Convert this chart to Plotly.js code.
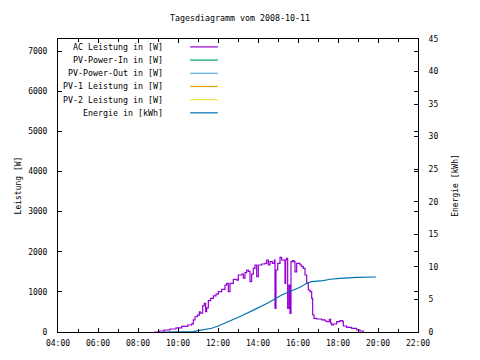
<!DOCTYPE html>
<html>
<head>
<meta charset="utf-8">
<script src="https://cdn.plot.ly/plotly-3.0.1.min.js"></script>
<style>html,body{margin:0;padding:0;background:#fff;}#chart{width:480px;height:360px;}</style>
</head>
<body>
<div id="chart"></div>
<script>
// ---- data ----
var dayPrefix = "2008-10-11 ";
var acTimes = ["08:48","09:03","09:18","09:36","09:54","10:11","10:29","10:41","10:46","10:51","10:58","11:04","11:07","11:14","11:19","11:23","11:26","11:31","11:38","11:46","11:54","12:01","12:11","12:21","12:26","12:31","12:36","12:46","12:56","13:01","13:11","13:16","13:21","13:26","13:31","13:36","13:41","13:46","13:51","13:56","14:01","14:11","14:21","14:26","14:31","14:36","14:43","14:49","14:51","14:54","14:59","15:06","15:11","15:16","15:21","15:23","15:26","15:29","15:33","15:36","15:39","15:44","15:48","15:51","15:56","16:06","16:11","16:16","16:21","16:26","16:31","16:36","16:41","16:44","16:48","16:56","17:11","17:21","17:26","17:34","17:38","17:41","17:46","17:56","18:06","18:14","18:16","18:26","18:41","18:56","19:06","19:16"];
var acPower = [0,25,50,75,105,140,175,200,300,380,420,505,470,650,715,505,600,780,840,900,945,1004,1063,1170,1212,1004,1212,1312,1290,1420,1445,1340,1478,1545,1510,1253,1440,1587,1669,1378,1669,1694,1711,1794,1669,1752,1711,1794,590,1545,1711,1860,1794,1790,1212,1800,1836,590,1170,465,1752,1777,1752,1500,1711,1669,1628,1587,1420,1212,1046,1004,840,423,340,324,300,274,257,316,216,174,199,257,282,257,150,116,91,50,25,0];

var pvInTimes = [];   var pvInPower = [];
var pvOutTimes = [];  var pvOutPower = [];
var pv1Times = [];    var pv1Power = [];
var pv2Times = [];    var pv2Power = [];

var energyTimes = ["09:15","10:46","11:00","11:21","11:41","12:01","12:31","13:11","13:51","14:31","15:11","15:36","15:46","16:06","16:26","16:41","17:16","17:36","18:06","18:56","19:54"];
var energyKWh = [0,0.05,0.2,0.4,0.57,0.92,1.58,2.5,3.48,4.5,5.68,6.19,6.45,6.86,7.48,7.73,7.88,8.1,8.25,8.4,8.45];

var seriesNames = ["AC Leistung in [W]","PV-Power-In in [W]","PV-Power-Out in [W]","PV-1 Leistung in [W]","PV-2 Leistung in [W]","Energie in [kWh]"];
var seriesColors = ["#9400d3","#009e73","#56b4e9","#e69f00","#f0e442","#0072b2"];

// ---- build ----
function ts(arr){ return arr.map(function(t){ return dayPrefix + t; }); }
var xs = [acTimes, pvInTimes, pvOutTimes, pv1Times, pv2Times, energyTimes];
var ys = [acPower, pvInPower, pvOutPower, pv1Power, pv2Power, energyKWh];

var traces = [];
for (var i = 0; i < 6; i++) {
  traces.push({
    x: ts(xs[i]), y: ys[i], name: seriesNames[i], type: 'scatter', mode: 'lines',
    yaxis: i === 5 ? 'y2' : 'y',
    line: {color: seriesColors[i], width: 1.2, shape: i === 5 ? 'linear' : 'hv'},
    showlegend: false, hoverinfo: 'skip'
  });
}

var mono = "DejaVu Sans Mono, monospace";
var annotations = [];
var shapes = [];
for (var k = 0; k < 6; k++) {
  var yp = 0.973 - k * 0.045;
  annotations.push({
    xref: 'paper', yref: 'paper', x: 0.297, y: yp, xanchor: 'right', yanchor: 'middle',
    text: seriesNames[k], showarrow: false, font: {family: mono, size: 8.3, color: '#000'}
  });
  shapes.push({
    type: 'line', xref: 'paper', yref: 'paper', x0: 0.367, x1: 0.444, y0: yp, y1: yp,
    line: {color: seriesColors[k], width: 1.2}
  });
}

var layout = {
  width: 480, height: 360,
  margin: {l: 58, r: 62, t: 39, b: 28, pad: 0},
  paper_bgcolor: '#fff', plot_bgcolor: '#fff',
  font: {family: mono, size: 8, color: '#000'},
  title: {text: 'Tagesdiagramm vom 2008-10-11', x: 0.5, xanchor: 'center', y: 0.95, yanchor: 'middle', font: {family: mono, size: 8.3, color: '#000'}},
  showlegend: false,
  xaxis: {
    type: 'date', range: [dayPrefix + '04:00', dayPrefix + '22:00'],
    tickformat: '%H:%M', dtick: 7200000, tick0: dayPrefix + '04:00',
    ticks: 'inside', ticklen: 4, tickcolor: '#000', tickwidth: 1,
    minor: {dtick: 3600000, ticks: 'inside', ticklen: 3, tickcolor: '#000'},
    showline: true, linecolor: '#000', linewidth: 1, mirror: 'ticks',
    showgrid: false, zeroline: false, ticklabelstandoff: 3,
    tickfont: {family: mono, size: 8, color: '#000'}
  },
  yaxis: {
    range: [0, 7300], dtick: 1000, tick0: 0,
    ticks: 'inside', ticklen: 4, tickcolor: '#000',
    showline: true, linecolor: '#000', linewidth: 1, mirror: 'ticks',
    showgrid: false, zeroline: false, ticklabelstandoff: 8,
    tickfont: {family: mono, size: 8, color: '#000'},
    title: {text: 'Leistung [W]', standoff: 5, font: {family: mono, size: 8, color: '#000'}}
  },
  yaxis2: {
    overlaying: 'y', side: 'right', range: [0, 45], dtick: 5, tick0: 0,
    ticks: 'inside', ticklen: 4, tickcolor: '#000',
    showline: true, linecolor: '#000', linewidth: 1,
    showgrid: false, zeroline: false, ticklabelstandoff: 8,
    tickfont: {family: mono, size: 8, color: '#000'},
    title: {text: 'Energie [kWh]', standoff: 14, font: {family: mono, size: 8, color: '#000'}}
  },
  annotations: annotations,
  shapes: shapes
};

Plotly.newPlot('chart', traces, layout, {staticPlot: true, displayModeBar: false});
</script>
</body>
</html>
